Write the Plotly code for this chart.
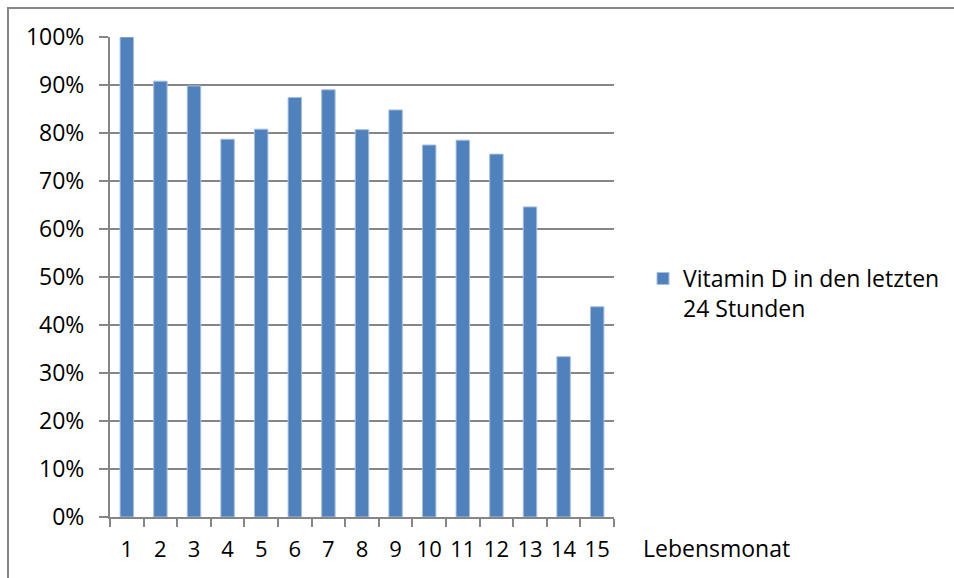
import plotly.graph_objects as go

# Anteil der Kinder mit Vitamin-D-Gabe je Lebensmonat
months = [str(m) for m in range(1, 16)]
vitamin_d_share = [100.0, 90.8, 89.8, 78.7, 80.8, 87.4, 89.0, 80.7,
                   84.8, 77.5, 78.5, 75.6, 64.6, 33.4, 43.8]
y_ticks = [0, 10, 20, 30, 40, 50, 60, 70, 80, 90, 100]
y_tick_labels = [f"{v}%" for v in y_ticks]
series_name = "Vitamin D in den letzten<br>24 Stunden"
x_label = "Lebensmonat"

W, H = 954, 578
L, R, T, B = 110, 340, 37, 61
plot_w, plot_h = W - L - R, H - T - B

GRID = "#868686"
FAMILY = "Open Sans, Liberation Sans, sans-serif"
FONT = dict(family=FAMILY, size=23, color="#000000")
XTICK_FONT = dict(family=FAMILY, size=22, color="#000000")


def px_x(px):
    return (px - L) / plot_w


def px_y(py):
    return (H - B - py) / plot_h


fig = go.Figure()
fig.add_trace(go.Bar(
    x=months,
    y=vitamin_d_share,
    name=series_name,
    width=0.4,
    marker=dict(color="#4F81BD", line=dict(color="#A7BEDF", width=1)),
    showlegend=True,
))

fig.update_layout(
    width=W, height=H,
    margin=dict(l=L, r=R, t=T, b=B, pad=0, autoexpand=False),
    paper_bgcolor="white",
    plot_bgcolor="white",
    font=FONT,
    bargap=0.6,
    showlegend=True,
    legend=dict(
        x=px_x(643), y=px_y(257), xanchor="left", yanchor="top",
        font=FONT, valign="top", bgcolor="rgba(0,0,0,0)",
        tracegroupgap=0,
    ),
    xaxis=dict(
        type="category",
        showgrid=False,
        showline=True, linecolor=GRID, linewidth=2,
        ticks="outside", ticklen=8, tickwidth=2, tickcolor=GRID,
        tickson="boundaries",
        tickangle=0,
        automargin=False,
        ticklabelstandoff=12,
        tickfont=XTICK_FONT,
        fixedrange=True,
    ),
    yaxis=dict(
        range=[0, 100],
        tickvals=y_ticks, ticktext=y_tick_labels,
        showgrid=True, gridcolor=GRID, gridwidth=2,
        showline=True, linecolor=GRID, linewidth=2,
        ticks="outside", ticklen=9, tickwidth=2, tickcolor=GRID,
        ticklabelstandoff=10,
        automargin=False,
        zeroline=False,
        tickfont=FONT,
        fixedrange=True,
    ),
    annotations=[dict(
        text=x_label, xref="paper", yref="paper",
        x=px_x(641), y=px_y(548), xanchor="left", yanchor="middle",
        showarrow=False, font=FONT,
    )],
    shapes=[dict(
        type="rect", xref="paper", yref="paper",
        x0=px_x(8), x1=px_x(W + 20), y0=px_y(H + 20), y1=px_y(8),
        line=dict(color=GRID, width=2), fillcolor="rgba(0,0,0,0)",
        layer="below",
    )],
)

fig.write_html("out.html")
